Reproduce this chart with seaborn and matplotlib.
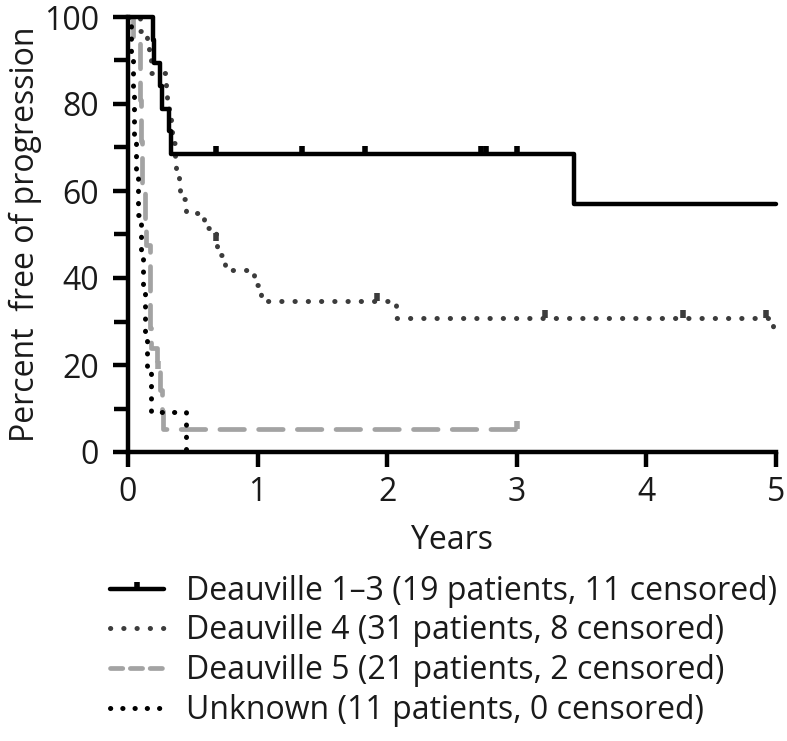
import matplotlib
matplotlib.use("Agg")
import matplotlib.pyplot as plt
from matplotlib.lines import Line2D
import seaborn as sns
import pandas as pd

# ---- data ----
dv13_t = [0, 0.19, 0.20, 0.25, 0.26, 0.32, 0.33, 3.44, 5.0]
dv13_s = [100, 94.7, 89.5, 84.2, 78.9, 73.7, 68.4, 57.0, 57.0]
dv13_cens_t = [0.68, 1.34, 1.83, 2.72, 2.76, 3.0]
dv13_cens_s = [68.4, 68.4, 68.4, 68.4, 68.4, 68.4]

dv4_t = [0, 0.09, 0.15, 0.16, 0.18, 0.29, 0.30, 0.32, 0.33, 0.34, 0.36, 0.37,
         0.39, 0.40, 0.45, 0.59, 0.68, 0.69, 0.75, 0.97, 1.03, 2.07, 4.98, 5.0]
dv4_s = [100, 96.8, 93.5, 90.3, 87.1, 83.9, 80.6, 77.4, 74.2, 71.0, 67.7, 64.5,
         61.3, 58.1, 55.0, 51.6, 48.4, 45.2, 41.9, 38.5, 34.6, 30.9, 27.6, 27.6]
dv4_cens_t = [0.68, 1.92, 3.22, 4.28, 4.92]
dv4_cens_s = [48.4, 34.6, 30.9, 30.9, 30.9]

dv5_t = [0, 0.04, 0.09, 0.093, 0.096, 0.10, 0.103, 0.106, 0.11, 0.13, 0.135,
         0.14, 0.17, 0.171, 0.172, 0.173, 0.175, 0.22, 0.25, 0.26, 0.27, 3.0]
dv5_s = [100, 95.2, 90.5, 85.7, 81.0, 76.2, 71.4, 66.7, 61.9, 57.1, 52.4,
         47.6, 42.9, 38.1, 33.3, 28.6, 23.8, 19.0, 14.3, 9.5, 5.3, 5.3]
dv5_cens_t = [0.23, 3.0]
dv5_cens_s = [19.0, 5.3]

unk_t = [0, 0.02, 0.035, 0.05, 0.065, 0.08, 0.10, 0.115, 0.13, 0.15, 0.175, 0.45]
unk_s = [100, 90.9, 81.8, 72.7, 63.6, 54.5, 45.5, 36.4, 27.3, 18.2, 9.1, 0]

labels = ["Deauville 1\u20133 (19 patients, 11 censored)",
          "Deauville 4 (31 patients, 8 censored)",
          "Deauville 5 (21 patients, 2 censored)",
          "Unknown (11 patients, 0 censored)"]
x_ticks = [0, 1, 2, 3, 4, 5]
y_ticks = [0, 20, 40, 60, 80, 100]

sns.set_theme(style="ticks")
plt.rcParams["font.family"] = ["Open Sans", "DejaVu Sans"]

FS = 23
TXT = "#1a1a1a"
fig = plt.figure(figsize=(7.87, 7.41), dpi=100)
ax = fig.add_axes([128 / 787, 1 - 452 / 741, 648 / 787, 435 / 741])

styles = [
    dict(color="black", lw=3.2, ls="-"),
    dict(color="#3c3c3c", lw=3.6, ls=(0, (0.05, 2.6)), dash_capstyle="round"),
    dict(color="#a3a3a3", lw=3.4, ls=(0, (5.2, 3.0)), dash_capstyle="round"),
    dict(color="black", lw=3.6, ls=(0, (0.05, 2.4)), dash_capstyle="round"),
]
series = [(dv13_t, dv13_s), (dv4_t, dv4_s), (dv5_t, dv5_s), (unk_t, unk_s)]
order = [2, 3, 1, 0]
for i in order:
    t, s = series[i]
    df = pd.DataFrame({"t": t, "s": s})
    st = dict(styles[i])
    ls = st.pop("ls")
    sns.lineplot(data=df, x="t", y="s", ax=ax, estimator=None, sort=False,
                 drawstyle="steps-post", linestyle=ls, clip_on=False, **st)

cens = [(dv13_cens_t, dv13_cens_s, "black"),
        (dv4_cens_t, dv4_cens_s, "#3c3c3c"),
        (dv5_cens_t, dv5_cens_s, "#a3a3a3")]
for ct, cs, col in cens:
    dfc = pd.DataFrame({"t": ct, "s": cs})
    sns.scatterplot(data=dfc, x="t", y="s", ax=ax, marker=2, s=36,
                    color=col, linewidth=4, clip_on=False, zorder=5)

ax.set_xlim(0, 5)
ax.set_ylim(0, 100)
ax.set_xticks(x_ticks)
ax.set_yticks(y_ticks)
ax.set_yticks([10, 30, 50, 70, 90], minor=True)
ax.tick_params(axis="both", which="major", length=11, width=3.2, labelsize=FS,
               color="black", labelcolor=TXT, pad=6)
ax.tick_params(axis="y", which="minor", length=10, width=3.2, color="black")
ax.tick_params(axis="y", which="major", pad=10)
for side in ["left", "bottom"]:
    ax.spines[side].set_linewidth(3.2)
    ax.spines[side].set_color("black")
sns.despine(ax=ax)
ax.set_xlabel("Years", fontsize=FS, color=TXT, labelpad=11)
ax.set_ylabel("Percent  free of progression", fontsize=FS, color=TXT, labelpad=1)

handles = [
    Line2D([], [], color="black", lw=3.2, ls="-", marker=2, ms=5, mew=4),
    Line2D([], [], color="#3c3c3c", lw=3.6, ls=(0, (0.05, 2.6)), dash_capstyle="round"),
    Line2D([], [], color="#a3a3a3", lw=3.4, ls=(0, (2.6, 1.6)), dash_capstyle="round"),
    Line2D([], [], color="black", lw=3.6, ls=(0, (0.05, 2.4)), dash_capstyle="round"),
]
fig.legend(handles, labels, loc="upper left", bbox_to_anchor=(97 / 787, 1 - 562 / 741),
           frameon=False, fontsize=FS, handlelength=1.7, handletextpad=0.7,
           labelspacing=0.21, labelcolor=TXT, borderaxespad=0)

fig.savefig("out.png", dpi=100)
